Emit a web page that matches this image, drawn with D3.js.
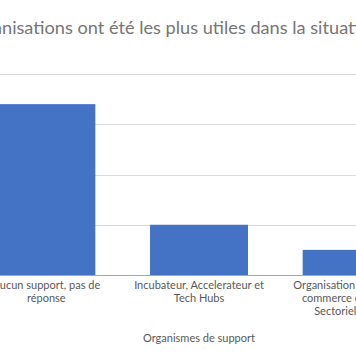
<!DOCTYPE html>
<html><head><meta charset="utf-8">
<script src="https://cdn.jsdelivr.net/npm/d3@7"></script>
<style>html,body{margin:0;padding:0;background:#fff;overflow:hidden}</style>
</head><body>
<svg id="c" width="356" height="364"></svg>
<script>
const titleText = "Quelles organisations ont été les plus utiles dans la situation actuelle ?";
const titleVisibleStart = "Quelles orga";
const categories = ["Aucun support", "Incubateur", "Organisation"];
const categoryLines = [
  ["Aucun support, pas de", "réponse"],
  ["Incubateur, Accelerateur et", "Tech Hubs"],
  ["Organisation des CCI de", "commerce et Syndic.", "Sectoriels ONG"]
];
const values = [34, 10, 5];
const yTicks = [0, 10, 20, 30, 40];
const xAxisTitle = "Organismes de support";

const svg = d3.select("#c");
const font = "Lato, 'Open Sans', sans-serif";
const plot = {left: -30, right: 428, top: 74, bottom: 275};

const x = d3.scaleBand().domain(categories).range([plot.left, plot.right]).paddingInner(0.358).paddingOuter(0.179);
const y = d3.scaleLinear().domain([0, 40]).range([plot.bottom, plot.top]);

// gridlines
svg.append("g").selectAll("line").data(yTicks.filter(d => d > 0)).join("line")
  .attr("x1", plot.left).attr("x2", plot.right)
  .attr("y1", d => Math.round(y(d)) + 0.5).attr("y2", d => Math.round(y(d)) + 0.5)
  .attr("stroke", "#d9d9d9").attr("stroke-width", 1);

// bars
svg.append("g").selectAll("rect").data(values).join("rect")
  .attr("x", (d, i) => x(categories[i]))
  .attr("width", x.bandwidth())
  .attr("y", d => y(d))
  .attr("height", d => y(0) - y(d))
  .attr("fill", "#4472c4");

// baseline
svg.append("line").attr("x1", plot.left).attr("x2", plot.right)
  .attr("y1", y(0) + 0.5).attr("y2", y(0) + 0.5)
  .attr("stroke", "#a6a6a6").attr("stroke-width", 1);

// category labels
const lab = svg.append("g").attr("font-family", font).attr("font-size", 11).attr("fill", "#595959").attr("text-anchor", "middle");
categoryLines.forEach((lines, i) => {
  const cx = x(categories[i]) + x.bandwidth() / 2;
  lines.forEach((t, j) => {
    lab.append("text").attr("x", cx).attr("y", 289 + j * 13).text(t);
  });
});

// axis title
svg.append("text").attr("x", x(categories[1]) + x.bandwidth() / 2).attr("y", 342)
  .attr("font-family", font).attr("font-size", 11).attr("fill", "#595959")
  .attr("text-anchor", "middle").text(xAxisTitle);

// title
const title = svg.append("text").attr("y", 34).attr("font-family", font)
  .attr("font-size", 18).attr("fill", "#767676").text(titleText);
const node = title.node();
const pre = titleVisibleStart.length;
const visLen = "nisations ont été les plus utiles dans la situat".length;
let w = node.getSubStringLength(pre, visLen);
const fs = 18 * 352 / w;
title.attr("font-size", fs);
const off = node.getSubStringLength(0, pre);
title.attr("x", 2 - off);
</script>
</body></html>
